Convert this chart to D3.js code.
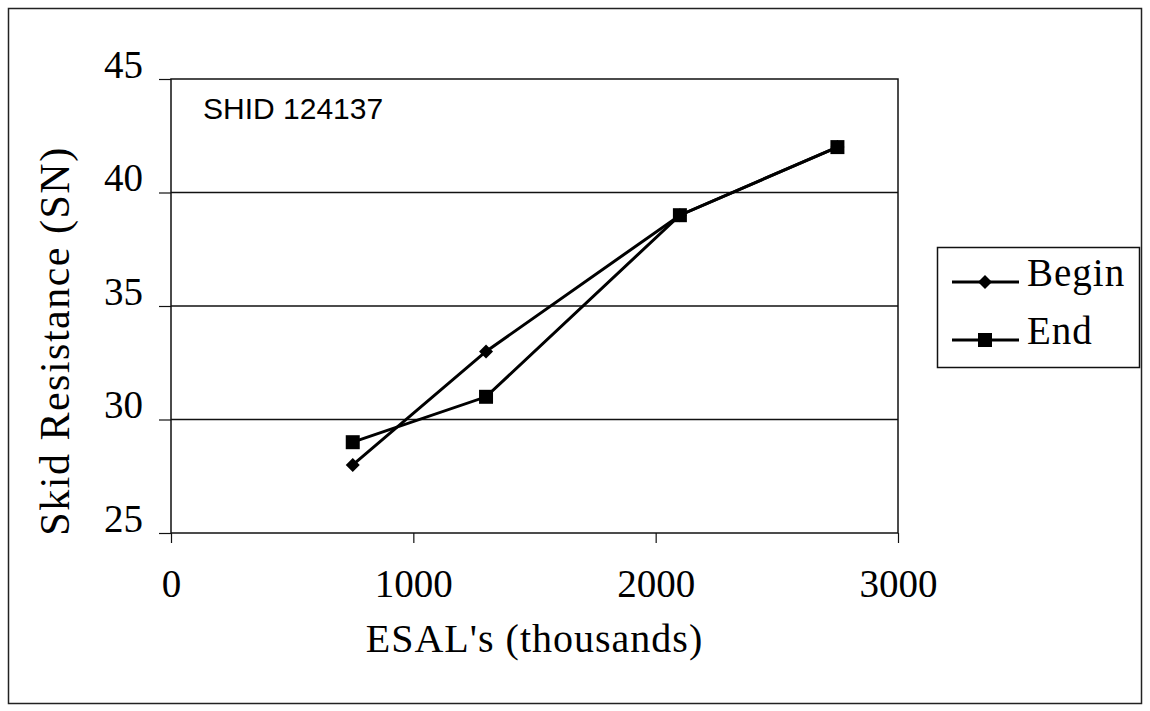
<!DOCTYPE html>
<html>
<head>
<meta charset="utf-8">
<script src="https://cdn.jsdelivr.net/npm/d3@7"></script>
<style>
  html, body { margin: 0; padding: 0; background: #fff; }
  #app { width: 1150px; height: 711px; }
  text { fill: #000; }
</style>
</head>
<body>
<div id="app"></div>
<script>
const container = document.querySelector('#app');

// Chart size and plot box
const width = 1150;
const height = 711;
const marginTop = 79;
const marginLeft = 171;
const plotRight = 898;
const plotBottom = 533;

// data
const seriesNames = ["Begin", "End"];
const esal = [750, 1300, 2100, 2750];
const beginValues = [28, 33, 39, 42];
const endValues = [29, 31, 39, 42];
const xTicks = [0, 1000, 2000, 3000];
const yTicks = [25, 30, 35, 40, 45];
const labelText = "SHID 124137";

const serif = "'Liberation Serif', 'Times New Roman', serif";

// scales
const x = d3.scaleLinear()
    .domain([0, 3000])
    .range([marginLeft, plotRight]);

const y = d3.scaleLinear()
    .domain([25, 45])
    .range([plotBottom, marginTop]);

const svg = d3.create("svg")
    .attr("width", width)
    .attr("height", height);

// outer frame
svg.append("rect")
    .attr("x", 8.5).attr("y", 8.5)
    .attr("width", 1133).attr("height", 695)
    .attr("fill", "none")
    .attr("stroke", "#222")
    .attr("stroke-width", 1.5);

// gridlines
svg.append("g")
  .selectAll("line")
  .data(yTicks.filter(d => d > 25 && d < 45))
  .join("line")
    .attr("x1", marginLeft).attr("x2", plotRight)
    .attr("y1", d => y(d)).attr("y2", d => y(d))
    .attr("stroke", "#111")
    .attr("stroke-width", 1.5);

// plot box
svg.append("rect")
    .attr("x", marginLeft).attr("y", marginTop)
    .attr("width", plotRight - marginLeft)
    .attr("height", plotBottom - marginTop)
    .attr("fill", "none")
    .attr("stroke", "#111")
    .attr("stroke-width", 1.5);

// x axis
const xAxis = svg.append("g")
    .attr("transform", `translate(0,${plotBottom})`)
    .call(d3.axisBottom(x).tickValues(xTicks).tickSize(10).tickPadding(26).tickFormat(d3.format("d")));
xAxis.select(".domain").remove();
xAxis.selectAll("line").attr("stroke", "#111").attr("stroke-width", 1.2);
xAxis.selectAll("text")
    .attr("font-family", serif)
    .attr("font-size", 39)
    .attr("fill", "#000");

// y axis
const yAxis = svg.append("g")
    .attr("transform", `translate(${marginLeft},0)`)
    .call(d3.axisLeft(y).tickValues(yTicks).tickSize(12).tickPadding(16));
yAxis.select(".domain").remove();
yAxis.selectAll("line").attr("stroke", "#111").attr("stroke-width", 1.2);
yAxis.selectAll("text")
    .attr("font-family", serif)
    .attr("font-size", 39)
    .attr("dy", "-0.05em")
    .attr("fill", "#000");

// axis titles
svg.append("text")
    .attr("x", (marginLeft + plotRight) / 2)
    .attr("y", 652)
    .attr("text-anchor", "middle")
    .attr("font-family", serif)
    .attr("font-size", 40)
    .attr("letter-spacing", 1)
    .text("ESAL's (thousands)");

svg.append("text")
    .attr("transform", `translate(69,${(marginTop + plotBottom) / 2 + 35}) rotate(-90)`)
    .attr("text-anchor", "middle")
    .attr("font-family", serif)
    .attr("font-size", 42)
    .attr("letter-spacing", 1.5)
    .text("Skid Resistance (SN)");

// label inside plot
svg.append("text")
    .attr("x", 203)
    .attr("y", 119)
    .attr("font-family", "'Liberation Sans', Arial, sans-serif")
    .attr("font-size", 30)
    .text(labelText);

// lines and markers
const line = d3.line()
    .x((d, i) => x(esal[i]))
    .y(d => y(d));

// diamond = small square turned 45 degrees
const series = [
  { name: seriesNames[0], values: beginValues, shape: d3.symbolSquare, size: 98, rot: 45 },
  { name: seriesNames[1], values: endValues, shape: d3.symbolSquare, size: 196, rot: 0 }
];

series.forEach(s => {
  svg.append("path")
      .datum(s.values)
      .attr("fill", "none")
      .attr("stroke", "#000")
      .attr("stroke-width", 3)
      .attr("d", line);
});

series.forEach(s => {
  svg.append("g")
    .selectAll("path")
    .data(s.values)
    .join("path")
      .attr("transform", (d, i) => `translate(${x(esal[i])},${y(d)}) rotate(${s.rot})`)
      .attr("d", d3.symbol(s.shape, s.size))
      .attr("fill", "#000");
});

// legend
const legend = svg.append("g");
legend.append("rect")
    .attr("x", 937.5).attr("y", 247.5)
    .attr("width", 202).attr("height", 120)
    .attr("fill", "#fff")
    .attr("stroke", "#111")
    .attr("stroke-width", 1.5);

series.forEach((s, i) => {
  const ly = 282 + i * 58;
  legend.append("line")
      .attr("x1", 952).attr("x2", 1019)
      .attr("y1", ly).attr("y2", ly)
      .attr("stroke", "#000")
      .attr("stroke-width", 3);
  legend.append("path")
      .attr("transform", `translate(985,${ly}) rotate(${s.rot})`)
      .attr("d", d3.symbol(s.shape, s.size))
      .attr("fill", "#000");
  legend.append("text")
      .attr("x", 1027)
      .attr("y", ly + 4)
      .attr("font-family", serif)
      .attr("font-size", 39)
      .attr("letter-spacing", 1)
      .text(s.name);
});

container.append(svg.node());
</script>
</body>
</html>
